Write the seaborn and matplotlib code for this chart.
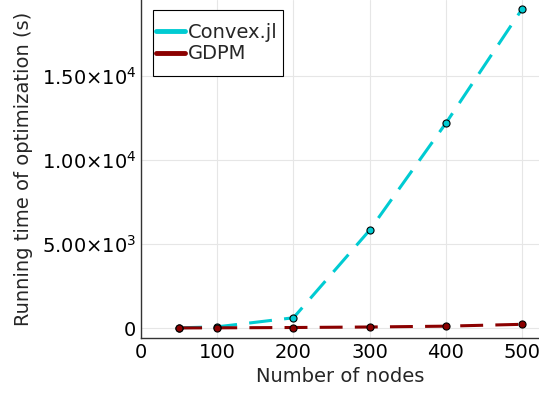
import numpy as np
import pandas as pd
import seaborn as sns
from matplotlib import pyplot as plt
from matplotlib.patches import Rectangle
from matplotlib.ticker import FixedLocator, FixedFormatter

nodes = [50, 100, 200, 300, 400, 500]
convex_time = [10, 70, 610, 5830, 12200, 19000]
gdpm_time = [5, 10, 30, 60, 110, 220]
series = ["Convex.jl", "GDPM"]
colors = ["#00CBD2", "#8B0000"]
ytick_vals = [0, 5000, 10000, 15000]
ytick_labels = ["0", r"$5.00{\times}10^{3}$", r"$1.00{\times}10^{4}$", r"$1.50{\times}10^{4}$"]


def main():
    df = pd.DataFrame({
        "nodes": nodes * 2,
        "time": convex_time + gdpm_time,
        "method": [series[0]] * len(nodes) + [series[1]] * len(nodes),
    })

    sns.set_style("white")
    plt.rcParams['font.family'] = ['DejaVu Sans']
    plt.rcParams['mathtext.fontset'] = 'dejavusans'

    fig = plt.figure(figsize=(5.39, 3.95), dpi=100)
    ax = fig.add_axes([0.2616, 0.1443, 0.7384, 0.8557])

    sns.lineplot(data=df, x="nodes", y="time", hue="method", palette=colors,
                 linewidth=2.2, ax=ax, legend=False)
    for line in ax.lines:
        line.set_dashes([7.5, 4])
    for name, c in zip(series, colors):
        sub = df[df["method"] == name]
        ax.scatter(sub["nodes"], sub["time"], s=26, color=c, edgecolor="black",
                   linewidth=0.8, zorder=3)

    ax.set_xlim(0, 522)
    ax.set_ylim(-595, 19524)
    ax.set_xticks([0, 100, 200, 300, 400, 500])
    ax.yaxis.set_major_locator(FixedLocator(ytick_vals))
    ax.yaxis.set_major_formatter(FixedFormatter(ytick_labels))
    ax.grid(True, color="#e6e6e6", linewidth=0.8)
    ax.tick_params(axis="both", labelsize=14, direction="in", length=3, color="#444444",
                   labelcolor="black")
    ax.set_xlabel("Number of nodes", fontsize=14, labelpad=4)
    ax.set_ylabel("Running time of optimization (s)", fontsize=14, labelpad=6)
    for side in ["top", "right"]:
        ax.spines[side].set_visible(False)
    for side in ["left", "bottom"]:
        ax.spines[side].set_color("#333333")
        ax.spines[side].set_linewidth(1.0)

    # legend: box drawn by hand, narrow sides and tall padding like Plots.jl
    box = Rectangle((0.030, 0.775), 0.327, 0.195, transform=ax.transAxes,
                    facecolor="white", edgecolor="black", linewidth=0.8, zorder=4)
    ax.add_patch(box)
    handles = [plt.Line2D([], [], color=c, linewidth=3.5) for c in colors]
    leg = ax.legend(handles, series, loc="upper left", bbox_to_anchor=(0.038, 0.932),
                    fontsize=14, frameon=False, handlelength=1.5,
                    handletextpad=0.15, borderpad=0.0, labelspacing=0.12,
                    borderaxespad=0.0)
    leg.set_zorder(5)

    fig.savefig("out.png", dpi=100)


if __name__ == '__main__':
    main()
